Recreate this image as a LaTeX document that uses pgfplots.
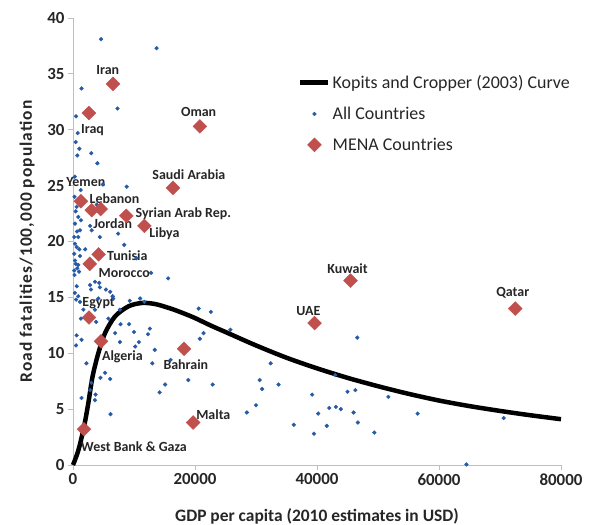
\documentclass[border=0pt]{standalone}
\usepackage{fontspec}
\setmainfont{Carlito}
\usepackage{pgfplots}
\pgfplotsset{compat=1.18}

\definecolor{menared}{RGB}{192,80,77}
\definecolor{dotblue}{RGB}{38,90,165}
\definecolor{axgray}{RGB}{191,191,191}
\tikzset{lbl/.style={font=\bfseries\fontsize{14}{14}\selectfont, text=black!85}}
\pgfplotsset{
  linelegend/.style={legend image code/.code={\draw[##1] (0bp,0bp) -- (28bp,0bp);}},
  marklegend/.style={legend image code/.code={\draw[##1] plot coordinates {(14bp,0bp)};}},
}

\pgfplotstableread{
x y
4600 38.1
13700 37.3
1400 33.7
7300 31.9
500 31.2
770 29.7
440 28.9
1040 28.3
700 27.7
3000 27.9
4000 27.0
8800 24.9
4900 25.1
1260 24.6
300 25.8
250 24.0
600 23.1
440 22.7
870 22.2
3900 23.3
330 21.6
1300 21.9
2800 21.4
660 20.9
1150 21.0
3070 21.0
4400 20.4
7400 20.7
200 20.4
870 20.4
330 19.8
600 19.5
1030 19.3
2000 19.3
200 18.9
1150 18.7
330 18.3
450 18.0
870 17.9
700 17.6
200 17.4
1000 17.3
250 17.0
8400 19.7
10400 18.5
12800 17.2
15600 16.7
600 16.0
2800 16.1
3600 16.4
4300 16.3
2950 15.7
4400 15.9
5400 15.7
6100 15.5
6500 15.1
870 15.1
300 15.4
500 14.8
1150 14.6
4150 14.9
6600 14.9
9300 14.7
11000 14.9
11700 14.6
1700 13.9
3600 13.9
7700 13.9
1300 13.1
3800 12.8
5800 13.1
7800 12.6
9200 12.6
10000 11.9
12600 12.2
12300 11.7
6900 11.8
600 11.6
1400 11.2
7700 11.0
10800 11.0
10200 10.6
500 10.7
13400 10.3
20600 14.0
22600 13.7
25800 12.1
21400 11.8
20800 11.3
16000 9.4
13000 9.1
2200 9.1
5250 8.25
4500 7.8
6100 7.7
3000 7.35
18900 7.6
15100 7.2
22900 7.2
30600 7.6
31000 6.8
33700 7.2
32400 9.1
2800 6.7
3700 6.3
3600 5.8
14200 6.5
1400 6.0
6150 4.55
28500 4.7
30000 5.35
36200 3.6
46600 11.4
43000 8.05
39200 6.3
45000 6.55
46300 6.7
51700 6.1
42000 5.1
43100 5.2
43900 5.0
40200 4.6
46000 4.7
56500 4.6
46700 3.8
41600 3.5
39500 2.8
49400 2.9
70600 4.2
64500 0.05
}\allcountries

\pgfplotstableread{
x y
0 0
870 1.3
1800 3.4
2500 5.5
3200 7.9
4150 10.0
5250 11.8
6900 13.3
9100 14.2
11300 14.5
13500 14.4
16000 14.0
18000 13.6
20000 13.15
22500 12.5
25000 11.9
30000 10.7
35000 9.6
40000 8.65
45000 7.8
50000 7.05
55000 6.37
60000 5.77
65000 5.27
70000 4.84
75000 4.45
80000 4.1
}\kccurve

\pgfplotstableread{
x y
6560 34.1
2600 31.5
20800 30.3
16400 24.8
1300 23.6
4540 22.9
3070 22.8
8740 22.3
11700 21.4
4200 18.85
2750 18.0
2620 13.2
4590 11.07
1800 3.2
18200 10.4
19700 3.8
39600 12.7
45500 16.5
72500 14.0
}\mena

\begin{document}
\begin{tikzpicture}
\path[use as bounding box] (-73bp,-60bp) rectangle (521bp,465bp);
\begin{axis}[
  scale only axis, width=488bp, height=447bp,
  xmin=0, xmax=80000, ymin=0, ymax=40,
  clip=false,
  axis x line*=bottom, axis y line*=left,
  axis line style={axgray, line width=0.8pt},
  xtick={0,20000,40000,60000,80000},
  ytick={0,5,...,40},
  tick align=outside, major tick length=5bp,
  tick style={axgray, line width=0.8pt},
  scaled x ticks=false,
  /pgf/number format/1000 sep={},
  /pgf/number format/assume math mode=true,
  ticklabel style={font=\bfseries\fontsize{17}{17}\selectfont, text=black!85},
  xlabel={GDP per capita (2010 estimates in USD)},
  ylabel={\addfontfeatures{LetterSpace=6}Road fatalities/100,000 population},
  xlabel style={at={(axis description cs:0.5,-0.114)}, anchor=center},
  ylabel style={at={(axis description cs:-0.094,0.5)}, anchor=center},
  label style={font=\bfseries\fontsize{17.5}{17.5}\selectfont, text=black!85},
  legend style={at={(0.455,0.881)}, anchor=north west, draw=none, fill=none,
    font=\fontsize{18}{18}\selectfont, row sep=13bp, cells={anchor=west},
    text=black!85},
]
\addlegendimage{black, line width=4.5bp, linelegend}
\addlegendentry{Kopits and Cropper (2003) Curve}
\addlegendimage{only marks, mark=*, mark size=1.9bp, dotblue, marklegend}
\addlegendentry{All Countries}
\addlegendimage{only marks, mark=square*, mark size=4.9bp, menared,
  mark options={rotate=45}, marklegend}
\addlegendentry{MENA Countries}

\addplot[forget plot, only marks, mark=*, mark size=1.9bp, dotblue]
  table[x=x, y=y] {\allcountries};
\addplot[forget plot, black, line width=4.5bp, smooth, tension=0.5]
  table[x=x, y=y] {\kccurve};
\addplot[forget plot, only marks, mark=square*, mark size=4.9bp, menared,
  mark options={rotate=45}]
  table[x=x, y=y] {\mena};

\node[lbl] at (axis cs:5700,35.3) {Iran};
\node[lbl] at (axis cs:3200,30.0) {Iraq};
\node[lbl] at (axis cs:20600,31.6) {Oman};
\node[lbl] at (axis cs:19000,26.0) {Saudi Arabia};
\node[lbl] at (axis cs:2100,25.3) {Yemen};
\node[lbl] at (axis cs:6800,23.8) {Lebanon};
\node[lbl] at (axis cs:18100,22.5) {Syrian Arab Rep.};
\node[lbl] at (axis cs:6500,21.6) {Jordan};
\node[lbl] at (axis cs:15000,20.7) {Libya};
\node[lbl] at (axis cs:8900,18.7) {Tunisia};
\node[lbl] at (axis cs:8400,17.15) {Morocco};
\node[lbl] at (axis cs:4200,14.5) {Egypt};
\node[lbl] at (axis cs:8100,9.7) {Algeria};
\node[lbl] at (axis cs:18500,8.95) {Bahrain};
\node[lbl] at (axis cs:23000,4.5) {Malta};
\node[lbl] at (axis cs:10000,1.65) {West Bank \& Gaza};
\node[lbl] at (axis cs:45000,17.6) {Kuwait};
\node[lbl] at (axis cs:38600,13.8) {UAE};
\node[lbl] at (axis cs:72100,15.4) {Qatar};
\end{axis}
\end{tikzpicture}
\end{document}
